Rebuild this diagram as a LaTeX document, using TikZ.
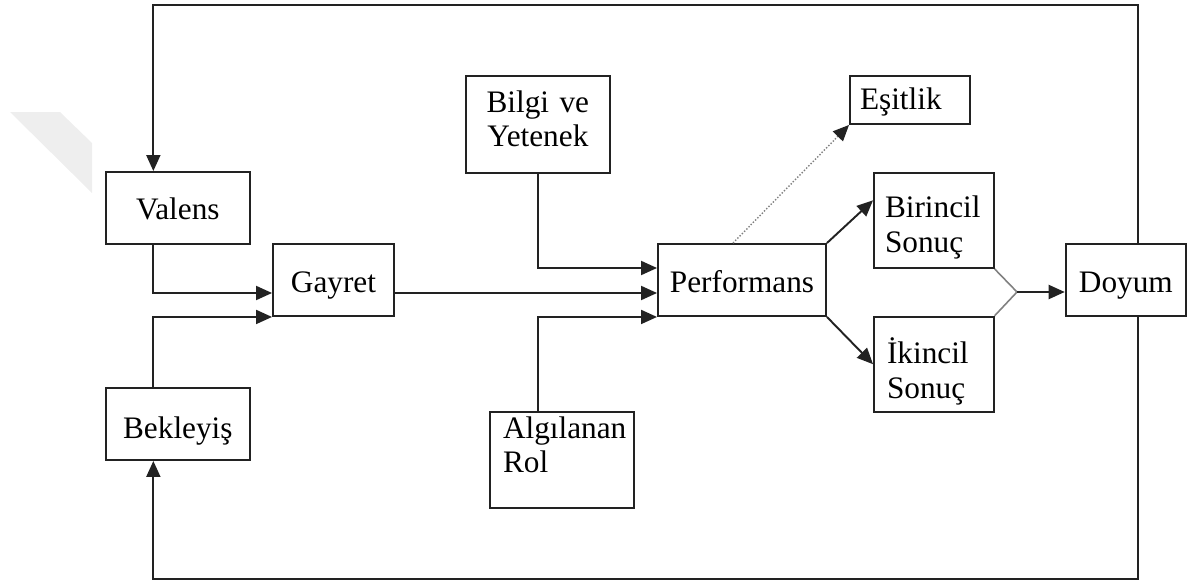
\documentclass[tikz,border=0pt]{standalone}
\usepackage{fontspec}
\setmainfont{Liberation Serif}
\usetikzlibrary{arrows.meta, positioning}
\definecolor{linegray}{HTML}{222222}
\definecolor{markgray}{HTML}{EEEEEE}

\begin{document}
\begin{tikzpicture}[
    box/.style={draw=linegray, line width=1.1pt, inner ysep=0pt, font=\fontsize{17.8}{19.9}\selectfont},
    arrow/.style={-{Triangle[length=0.32cm, width=0.28cm]}, line width=1.1pt, linegray},
    dotarrow/.style={-{Triangle[length=0.32cm, width=0.28cm, color=linegray]}, densely dotted, line width=0.8pt, gray},
    merge/.style={line width=0.9pt, gray}
  ]
  \useasboundingbox (0,0) rectangle (23.8,-11.66);

  % faint mark on the left
  \fill[markgray] (0.2,-2.24) -- (1.2,-2.24) -- (1.84,-2.86) -- (1.84,-3.86) -- cycle;

  % Boxes
  \node[box, text width=2.686cm, inner xsep=0.1cm, align=center, text height=0.94cm, text depth=0.50cm] (valens) at (3.557,-4.16) {Valens};
  \node[box, text width=2.686cm, inner xsep=0.1cm, align=center, text height=1.00cm, text depth=0.44cm] (bekleyis) at (3.557,-8.48) {Bekleyiş};
  \node[box, text width=2.22cm, inner xsep=0.1cm, align=center, text height=0.97cm, text depth=0.47cm] (gayret) at (6.67,-5.6) {Gayret};
  \node[box, text width=2.686cm, inner xsep=0.1cm, align=center, text height=0.72cm, text depth=1.22cm] (bilgi) at (10.757,-2.49) {Bilgi ve\\Yetenek};
  \node[box, text width=2.36cm, inner xsep=0.26cm, align=left, text height=0.52cm, text depth=1.40cm] (algilanan) at (11.24,-9.2) {Algılanan\\Rol};
  \node[box, text width=3.16cm, inner xsep=0.1cm, align=center, text height=0.96cm, text depth=0.48cm] (performans) at (14.84,-5.6) {Performans};
  \node[box, text width=2.0cm, inner xsep=0.2cm, align=left, text height=0.66cm, text depth=0.30cm] (esitlik) at (18.2,-2.0) {Eşitlik};
  \node[box, text width=1.954cm, inner xsep=0.22cm, align=left, text height=0.90cm, text depth=1.006cm] (birincil) at (18.677,-4.407) {Birincil\\Sonuç};
  \node[box, text width=1.874cm, inner xsep=0.26cm, align=left, text height=0.94cm, text depth=0.96cm] (ikincil) at (18.677,-7.284) {İkincil\\Sonuç};
  \node[box, text width=2.206cm, inner xsep=0.1cm, align=center, text height=0.96cm, text depth=0.48cm] (doyum) at (22.517,-5.6) {Doyum};

  % Corners of the outer loop
  \coordinate (tl) at (3.067,-0.1);
  \coordinate (tr) at (22.754,-0.1);
  \coordinate (bl) at (3.067,-11.58);
  \coordinate (br) at (22.754,-11.58);
  \coordinate (meet) at (20.34,-5.84);

  % Feedback loop
  \draw[arrow] (doyum.north -| tr) |- (tl) -- (tl |- valens.north);
  \draw[arrow] (doyum.south -| br) |- (bl) -- (bl |- bekleyis.south);

  % Into Gayret
  \draw[arrow] (valens.south -| tl) |- ([yshift=-0.26cm]gayret.west);
  \draw[arrow] (bekleyis.north -| bl) |- (gayret.south west);

  % Into Performans
  \draw[arrow] ([yshift=-0.26cm]gayret.east) -- ([yshift=-0.26cm]performans.west);
  \draw[arrow] (bilgi.south) |- ([yshift=0.24cm]performans.west);
  \draw[arrow] (algilanan.north -| bilgi.south) |- (performans.south west);

  % Out of Performans
  \draw[dotarrow] ([xshift=-0.18cm]performans.north) -- (esitlik.south west);
  \draw[arrow] (performans.north east) -- ([yshift=0.4cm]birincil.west);
  \draw[arrow] (performans.south east) -- (ikincil.west);

  % Into Doyum
  \draw[merge] (birincil.south east) -- (meet) -- (ikincil.north east);
  \draw[arrow] (meet) -- (meet -| doyum.west);
\end{tikzpicture}
\end{document}
